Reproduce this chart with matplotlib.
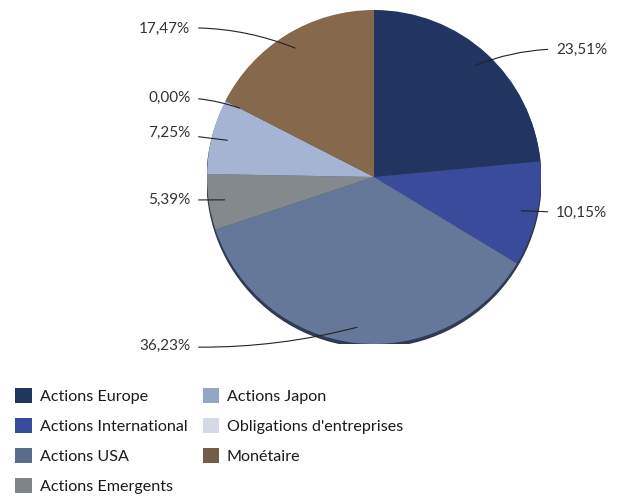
import matplotlib.pyplot as plt
from matplotlib.patches import Patch, Circle
import numpy as np

plt.rcParams['font.family'] = ['Lato', 'DejaVu Sans']

# allocation data (clockwise from 12 o'clock)
categories = ["Actions Europe", "Actions International", "Actions USA", "Actions Emergents",
              "Actions Japon", "Obligations d'entreprises", "Monétaire"]
values = [23.51, 10.15, 36.23, 5.39, 7.25, 0.00, 17.47]
labels = ["23,51%", "10,15%", "36,23%", "5,39%", "7,25%", "0,00%", "17,47%"]

colors = ["#213560", "#3b4b9c", "#65789a", "#84898e", "#a4b4d2", "#d5d9e6", "#86684d"]
legend_colors = ["#213560", "#3b4b9c", "#5b6b8c", "#7f8488", "#95a6c4", "#d5d9e6", "#755c46"]

# where the label text sits (axes data units, pie radius = 1)
label_pos = [(1.09, 0.76), (1.09, -0.216), (-1.10, -1.012), (-1.10, -0.138),
             (-1.10, 0.263), (-1.10, 0.473), (-1.10, 0.886)]
label_rad = [0.12, 0.0, 0.08, 0.0, 0.0, -0.1, -0.12]

fig = plt.figure(figsize=(6.17, 4.97), dpi=100)
W, H = 617, 497
cx, cy, r = 374, 177, 167
ax = fig.add_axes([(cx - r) / W, (H - cy - r) / H, 2 * r / W, 2 * r / H])

# darker rim underneath for the 3D look
ax.add_patch(Circle((0.0, -0.018), 1.0, color="#2e3a52", zorder=0))

wedges, _ = ax.pie(values, colors=colors, startangle=90, counterclock=False,
                   wedgeprops=dict(linewidth=0))
ax.set_xlim(-1, 1)
ax.set_ylim(-1, 1)
ax.set_aspect('equal')

for w, lab, pos, rad in zip(wedges, labels, label_pos, label_rad):
    ang = np.deg2rad((w.theta1 + w.theta2) / 2)
    xy = (0.905 * np.cos(ang), 0.905 * np.sin(ang))
    ha = 'left' if pos[0] > 0 else 'right'
    ax.annotate(lab, xy=xy, xytext=pos, ha=ha, va='center', fontsize=11, color="#333333",
                arrowprops=dict(arrowstyle='-', color="#222222", lw=0.8,
                                shrinkA=4, shrinkB=0,
                                connectionstyle="arc3,rad=%s" % rad),
                annotation_clip=False)

handles = [Patch(facecolor=c, edgecolor='none') for c in legend_colors]
fig.legend(handles, categories, loc='upper left', bbox_to_anchor=(9 / W, 1 - 382 / H),
           ncol=2, frameon=False, fontsize=11.6, handlelength=1.0, handleheight=1.0,
           handletextpad=0.5, labelspacing=0.88, columnspacing=0.95, labelcolor="#1a1a1a",
           borderaxespad=0, borderpad=0.4)

fig.savefig("out.png", dpi=100)
